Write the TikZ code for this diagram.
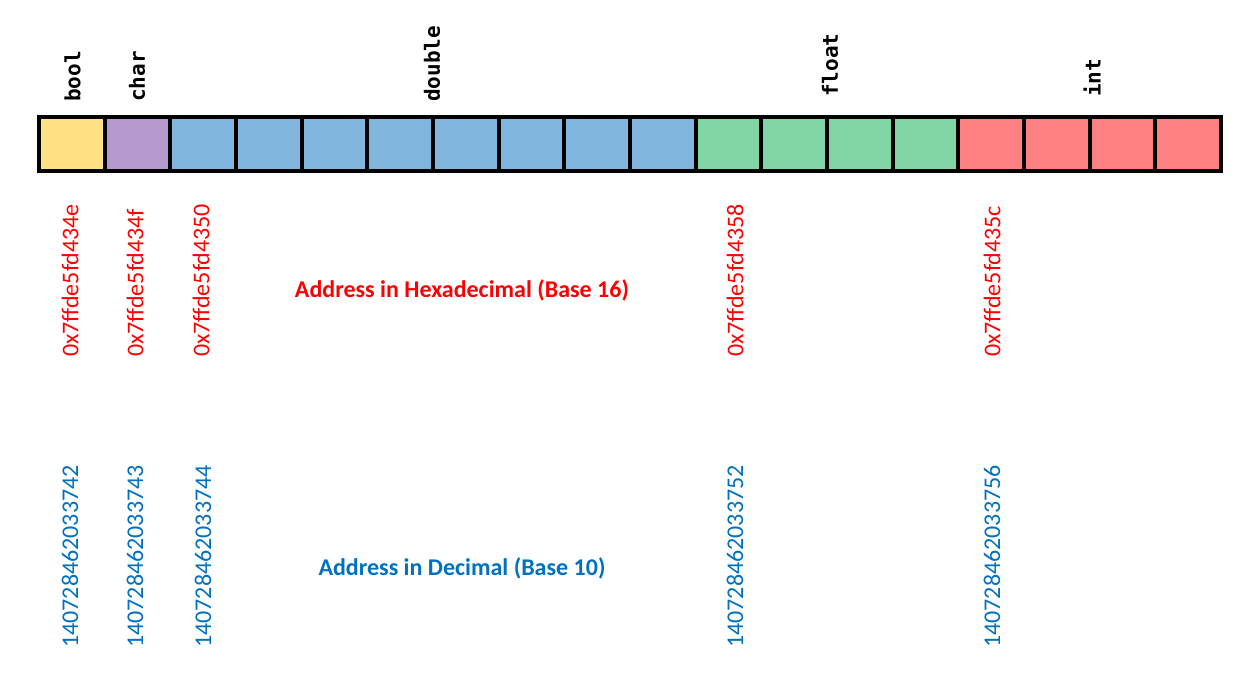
\documentclass[tikz,border=0pt]{standalone}
\usepackage{fontspec}
\setmainfont{Carlito}
\newfontfamily\monob{DejaVu Sans Mono}
\definecolor{cyellow}{RGB}{255,224,130}
\definecolor{cpurple}{RGB}{182,153,206}
\definecolor{cblue}{RGB}{128,182,222}
\definecolor{cgreen}{RGB}{128,214,166}
\definecolor{cred}{RGB}{255,128,128}
\definecolor{hexred}{RGB}{255,0,0}
\definecolor{decblue}{RGB}{0,112,192}
\begin{document}
\begin{tikzpicture}[x=1pt,y=-1pt,
  cell/.style={draw=black,line width=4pt,minimum width=65.67pt,minimum height=54pt,inner sep=0pt,outer sep=0pt},
  typelabel/.style={rotate=90,anchor=west,inner sep=0pt,font=\monob\bfseries\fontsize{21}{21}\selectfont},
  hexaddr/.style={rotate=90,anchor=west,inner sep=0pt,text=hexred,font=\fontsize{24}{24}\selectfont},
  decaddr/.style={rotate=90,anchor=west,inner sep=0pt,text=decblue,font=\fontsize{24}{24}\selectfont},
  title/.style={inner sep=0pt,font=\bfseries\fontsize{24}{24}\selectfont}]
\useasboundingbox (0,0) rectangle (1234,682);
\foreach \i/\c in {1/cyellow,2/cpurple,3/cblue,4/cblue,5/cblue,6/cblue,7/cblue,8/cblue,9/cblue,10/cblue,11/cgreen,12/cgreen,13/cgreen,14/cgreen,15/cred,16/cred,17/cred,18/cred}{
  \node[cell,fill=\c] (c\i) at ({39+65.67*(\i-0.5)},144) {};
}
\node[typelabel] (tbool) at (72.5,102) {bool};
\node[typelabel] (tchar) at (137,102) {char};
\node[typelabel] (tdouble) at (432,102) {double};
\node[typelabel] (tfloat) at (830,97) {float};
\node[typelabel] (tint) at (1092,97) {int};

\node[hexaddr] (h1) at (70,357) {0x7ffde5fd434e};
\node[hexaddr] (h2) at (135,357) {0x7ffde5fd434f};
\node[hexaddr] (h3) at (201,357) {0x7ffde5fd4350};
\node[hexaddr] (h4) at (735,357) {0x7ffde5fd4358};
\node[hexaddr] (h5) at (992,357) {0x7ffde5fd435c};

\node[decaddr] (d1) at (70,648) {140728462033742};
\node[decaddr] (d2) at (135,648) {140728462033743};
\node[decaddr] (d3) at (203,648) {140728462033744};
\node[decaddr] (d4) at (735,648) {140728462033752};
\node[decaddr] (d5) at (992,648) {140728462033756};

\node[title,text=hexred] (thex) at (462,290) {Address in Hexadecimal (Base 16)};
\node[title,text=decblue] (tdec) at (462,568) {Address in Decimal (Base 10)};
\end{tikzpicture}
\end{document}
